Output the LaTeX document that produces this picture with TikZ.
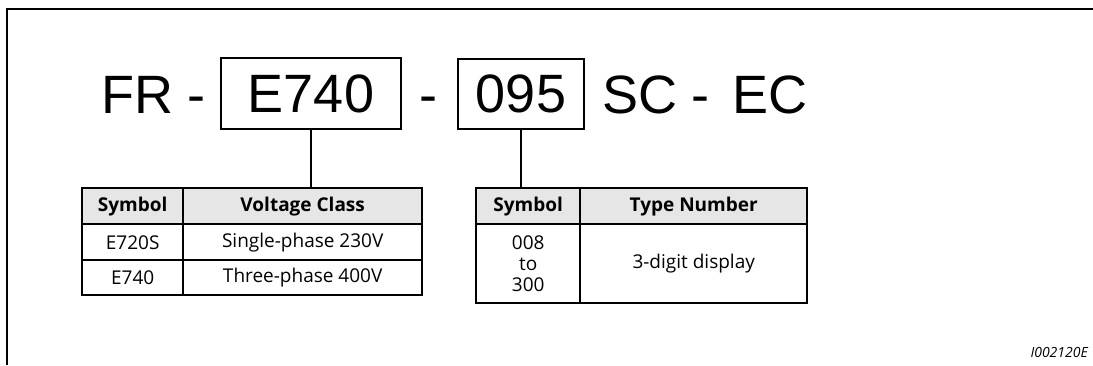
\documentclass[tikz,border=0pt]{standalone}
\usepackage{fontspec}
\setmainfont{Liberation Sans}
\newfontfamily\tabfont{Open Sans}
\usepackage{tikz}
\usetikzlibrary{calc}
\definecolor{headgray}{HTML}{E6E6E6}
\tikzset{every picture/.style={line join=miter},
  big/.style={font=\fontsize{54}{60}\selectfont, inner sep=0pt},
  codebox/.style={draw, line width=1.6pt, inner sep=0pt},
  cell/.style={draw, line width=2.4pt, anchor=north west, inner sep=0pt, align=center,
    font=\tabfont\fontsize{19}{21}\selectfont},
  head/.style={cell, fill=headgray, font=\tabfont\bfseries\fontsize{19}{21}\selectfont},
  link/.style={line width=2.8pt}}

\begin{document}
\begin{tikzpicture}[x=1pt,y=-1pt]
  \useasboundingbox (0,0) rectangle (1093,365);
  % open frame
  \draw [line width=2.8pt] (7,365) -- (7,9) -- (1093,9);

  % type code
  \node (fr) [big, anchor=base] at (137,113) {FR};
  \node (d1) [big, anchor=base] at (196,113) {-};
  \node (series) [big, codebox, minimum width=180pt, minimum height=71pt] at (311,93.5) {E740};
  \node (d2) [big, anchor=base] at (428,113) {-};
  \node (cap) [big, codebox, minimum width=126pt, minimum height=70pt] at (521,94) {095};
  \node (sc) [big, anchor=base] at (640,113) {SC};
  \node (d3) [big, anchor=base] at (700,113) {-};
  \node (ec) [big, anchor=base] at (770,113) {EC};

  % voltage class
  \node (s1) [head, minimum width=101pt, minimum height=36pt] at (81,187) {Symbol};
  \node (v1) [head, minimum width=239pt, minimum height=36pt] at (182,187) {Voltage Class};
  \node (s2) [cell, minimum width=101pt, minimum height=36pt] at (81,223) {E720S};
  \node (v2) [cell, minimum width=239pt, minimum height=36pt] at (182,223) {Single-phase 230V};
  \node (s3) [cell, minimum width=101pt, minimum height=35pt] at (81,259) {E740};
  \node (v3) [cell, minimum width=239pt, minimum height=35pt] at (182,259) {Three-phase 400V};

  % type number
  \node (s4) [head, minimum width=104pt, minimum height=36pt] at (475,187) {Symbol};
  \node (t4) [head, minimum width=227pt, minimum height=36pt] at (579,187) {Type Number};
  \node (s5) [cell, minimum width=104pt, minimum height=79pt] at (475,223) {008\\to\\300};
  \node (t5) [cell, minimum width=227pt, minimum height=79pt] at (579,223) {3-digit display};

  \draw [link] (series.south) -- (series.south |- v1.north);
  \draw [link] (cap.south) -- (cap.south |- s4.north);

  \node (id) [anchor=base east, inner sep=0pt, font=\tabfont\itshape\fontsize{14}{16}\selectfont] at (1088,357) {I002120E};
\end{tikzpicture}
\end{document}
